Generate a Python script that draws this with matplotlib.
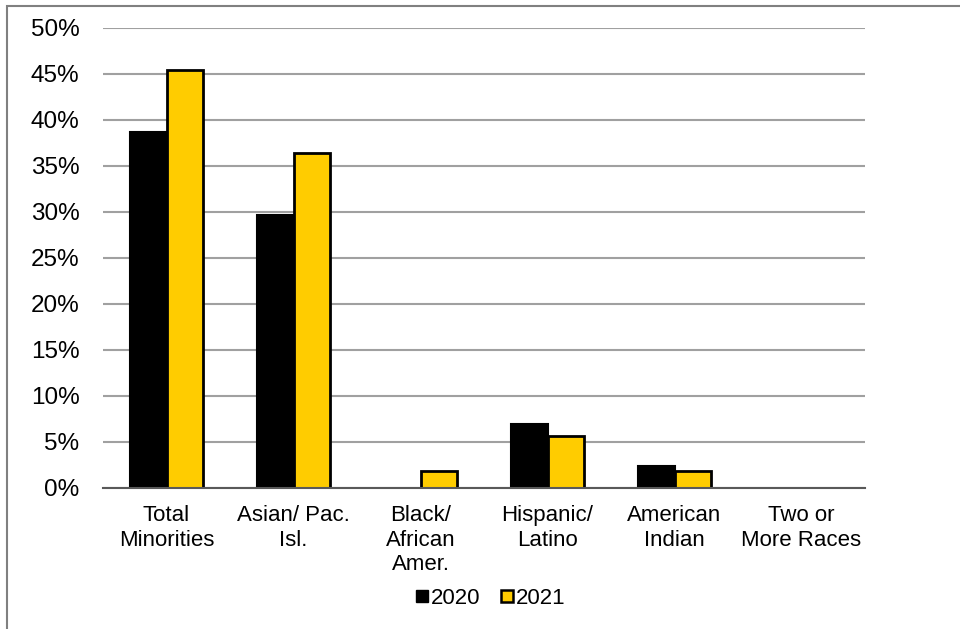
import matplotlib
matplotlib.use("Agg")
import matplotlib.pyplot as plt
from matplotlib.patches import Rectangle
from matplotlib.lines import Line2D
import numpy as np

plt.rcParams['font.family'] = ['Liberation Sans', 'DejaVu Sans']

categories = ["Total\nMinorities", "Asian/ Pac.\nIsl.", "Black/\nAfrican\nAmer.",
              "Hispanic/\nLatino", "American\nIndian", "Two or\nMore Races"]
vals_2020 = [38.7, 29.7, 0.0, 7.0, 2.4, 0.0]
vals_2021 = [45.4, 36.4, 1.9, 5.6, 1.9, 0.0]
series_labels = ["2020", "2021"]
yticks = [0, 5, 10, 15, 20, 25, 30, 35, 40, 45, 50]

fig = plt.figure(figsize=(9.6, 6.29), dpi=100)
ax = fig.add_axes([103/960, 1 - 488/629, (865 - 103)/960, (488 - 28)/629])

x = np.arange(len(categories))
w = 0.29
# empty bars get no outline so the baseline stays visible
lw_2020 = [1.5 if v > 0 else 0 for v in vals_2020]
lw_2021 = [2.0 if v > 0 else 0 for v in vals_2021]
ax.bar(x - w/2, vals_2020, width=w, color="black", edgecolor="black", linewidth=lw_2020, zorder=3)
ax.bar(x + w/2, vals_2021, width=w, color="#FFCC00", edgecolor="black", linewidth=lw_2021, zorder=3)

ax.set_xlim(-0.5, len(categories) - 0.5)
ax.set_ylim(0, 50)
ax.set_yticks(yticks)
ax.set_yticklabels([f"{t}%" for t in yticks])
ax.set_xticks(x)
ax.set_xticklabels(categories, linespacing=1.24, va="top")
ax.tick_params(axis="x", length=0, labelsize=16, colors="black", pad=12)
ax.tick_params(axis="y", length=0, labelsize=17.5, colors="black", pad=17)
ax.yaxis.grid(True, color="#A0A0A0", linewidth=1.5, zorder=0)
ax.set_axisbelow(True)
for s in ["top", "right", "left"]:
    ax.spines[s].set_visible(False)
ax.spines["bottom"].set_color("#595959")
ax.spines["bottom"].set_linewidth(1.5)
ax.spines["bottom"].set_zorder(4)

handles = [
    Line2D([], [], marker="s", linestyle="none", markersize=8.5,
           markerfacecolor="black", markeredgecolor="black"),
    Line2D([], [], marker="s", linestyle="none", markersize=8.5,
           markerfacecolor="#FFCC00", markeredgecolor="black", markeredgewidth=1.8),
]
fig.legend(handles, series_labels, loc="center", bbox_to_anchor=(490/960, 1 - 598/629),
           ncol=2, frameon=False, fontsize=16, handletextpad=0.1, columnspacing=0.9,
           handlelength=0.6)

# outer frame
fig.patches.append(Rectangle((7/960, -0.1), 1.2, 1 - 6/629 + 0.1, transform=fig.transFigure,
                             fill=False, edgecolor="#808080", linewidth=1.5))

fig.savefig("out.png", dpi=100)
